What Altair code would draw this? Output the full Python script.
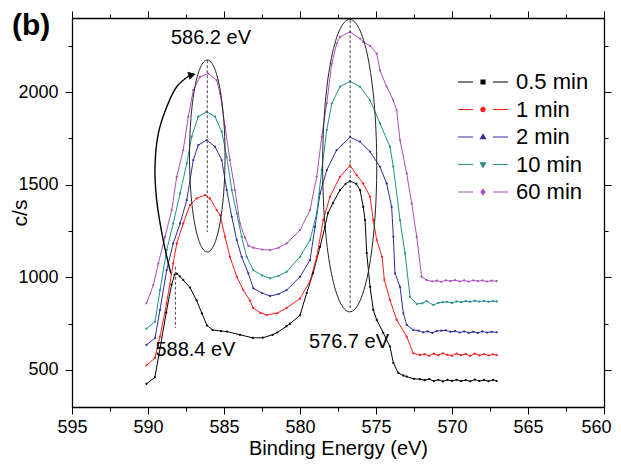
import altair as alt
import pandas as pd

SERIES = ["0.5 min", "1 min", "2 min", "10 min", "60 min"]
COLORS = ["#000000", "#ff1a1a", "#2e2e9e", "#22918a", "#a94fbb"]

# (binding energy eV, counts/s)
S_05 = [(590.1, 425), (589.55, 460), (589.2, 620), (588.8, 810), (588.45, 960), (588.25, 1015),
        (588.1, 1020), (587.9, 1005), (587.68, 985), (587.24, 945), (586.8, 875), (586.45, 805),
        (586.12, 740), (585.75, 716), (585.2, 710), (584.8, 707), (583.95, 690), (583.1, 673),
        (582.45, 674), (581.8, 690), (581.5, 702), (580.9, 735), (580.65, 750), (580.0, 795),
        (579.56, 915), (579.14, 1023), (578.68, 1165), (578.36, 1273), (578.16, 1347), (577.83, 1401),
        (577.37, 1471), (577.0, 1505), (576.71, 1520), (576.3, 1505), (576.05, 1471), (575.84, 1381),
        (575.72, 1309), (575.61, 1131), (575.39, 949), (575.18, 824), (574.95, 770), (574.52, 700),
        (574.08, 626), (573.86, 538), (573.53, 484), (573.2, 470), (572.98, 464), (572.5, 452),
        (572.11, 450), (571.8, 445), (571.5, 450), (571.2, 440), (570.9, 447), (570.6, 438),
        (570.3, 446), (570.0, 441), (569.7, 447), (569.4, 440), (569.1, 445), (568.8, 439),
        (568.5, 448), (568.2, 440), (567.9, 446), (567.6, 439), (567.3, 447), (567.06, 440)]
S_1 = [(590.1, 525), (589.54, 565), (589.21, 680), (588.77, 861), (588.34, 1075), (588.11, 1183),
       (587.68, 1291), (587.24, 1390), (586.8, 1426), (586.25, 1444), (585.92, 1426), (585.48, 1363),
       (585.26, 1336), (584.93, 1219), (584.61, 1111), (584.16, 1003), (583.73, 931), (583.29, 875),
       (583.09, 835), (582.6, 808), (582.19, 797), (581.51, 806), (580.88, 835), (580.0, 885),
       (579.34, 980), (578.9, 1110), (578.47, 1309), (578.03, 1435), (577.37, 1543), (576.71, 1604),
       (576.27, 1552), (575.84, 1507), (575.39, 1435), (575.18, 1309), (574.95, 1201), (574.6, 1111),
       (574.45, 985), (574.08, 878), (573.64, 770), (572.98, 680), (572.55, 590), (572.11, 581),
       (571.8, 585), (571.5, 576), (571.2, 588), (570.9, 579), (570.6, 590), (570.3, 582),
       (570.0, 577), (569.7, 588), (569.4, 580), (569.1, 586), (568.8, 576), (568.5, 588),
       (568.2, 579), (567.9, 585), (567.6, 578), (567.3, 584), (567.06, 580)]
S_2 = [(590.1, 635), (589.54, 672), (589.21, 824), (588.77, 1039), (588.34, 1183), (587.89, 1291),
       (587.45, 1417), (587.02, 1633), (586.69, 1714), (586.14, 1741), (585.59, 1705), (585.15, 1633),
       (584.82, 1471), (584.49, 1327), (584.16, 1201), (583.84, 1111), (583.4, 1022), (583.07, 941),
       (582.5, 915), (581.97, 899), (581.4, 910), (580.88, 931), (580.0, 1003), (579.34, 1093),
       (579.01, 1273), (578.68, 1453), (578.24, 1579), (577.59, 1687), (576.71, 1757), (576.05, 1732),
       (575.39, 1678), (574.74, 1597), (574.3, 1507), (573.97, 1381), (573.86, 1219), (573.75, 1022),
       (573.42, 949), (573.2, 806), (572.98, 743), (572.55, 716), (572.2, 712), (571.9, 703),
       (571.6, 708), (571.3, 700), (571.0, 710), (570.7, 712), (570.4, 714), (570.1, 706),
       (569.8, 710), (569.5, 702), (569.2, 708), (568.9, 700), (568.6, 706), (568.3, 700),
       (568.0, 708), (567.7, 702), (567.4, 706), (567.06, 703)]
S_10 = [(590.1, 723), (589.54, 760), (589.21, 931), (588.77, 1147), (588.34, 1291), (587.89, 1453),
        (587.45, 1615), (587.13, 1759), (586.69, 1867), (586.14, 1894), (585.59, 1867), (585.15, 1786),
        (584.82, 1651), (584.49, 1471), (584.16, 1345), (583.84, 1219), (583.51, 1111), (583.07, 1039),
        (582.5, 1010), (581.97, 995), (581.4, 1008), (580.88, 1030), (580.0, 1111), (579.34, 1201),
        (578.9, 1345), (578.57, 1579), (578.24, 1795), (577.91, 1938), (577.37, 2029), (576.71, 2058),
        (576.05, 2029), (575.39, 1956), (574.74, 1831), (574.08, 1705), (573.86, 1597), (573.42, 1309),
        (573.09, 1129), (572.76, 895), (572.32, 856), (571.95, 860), (571.67, 872), (571.23, 850),
        (570.9, 862), (570.6, 866), (570.35, 868), (570.0, 862), (569.7, 870), (569.4, 866),
        (569.1, 872), (568.8, 868), (568.5, 874), (568.2, 869), (567.9, 873), (567.6, 868),
        (567.3, 872), (567.06, 870)]
S_60 = [(590.1, 860), (589.65, 958), (589.32, 1075), (588.88, 1219), (588.44, 1363), (588.11, 1543),
        (587.68, 1687), (587.35, 1867), (587.02, 2010), (586.58, 2082), (586.03, 2100), (585.48, 2064),
        (585.26, 1993), (584.93, 1813), (584.61, 1633), (584.28, 1471), (583.95, 1290), (583.62, 1215),
        (583.4, 1170), (583.07, 1160), (582.5, 1150), (581.97, 1147), (581.4, 1160), (580.88, 1183),
        (580.0, 1255), (579.34, 1363), (578.9, 1543), (578.57, 1759), (578.24, 1939), (577.91, 2154),
        (577.59, 2262), (577.37, 2298), (576.71, 2325), (576.05, 2289), (575.84, 2271), (575.39, 2250),
        (574.95, 2208), (574.74, 2118), (574.3, 2029), (573.86, 1956), (573.64, 1902), (573.42, 1740),
        (572.98, 1561), (572.65, 1399), (572.32, 1219), (572.0, 1003), (571.67, 985), (571.3, 978),
        (571.0, 982), (570.7, 976), (570.4, 984), (570.1, 979), (569.8, 985), (569.5, 978),
        (569.2, 983), (568.9, 977), (568.6, 984), (568.3, 979), (568.0, 983), (567.7, 977),
        (567.4, 982), (567.06, 979)]

X_TICKS = [595, 592.5, 590, 587.5, 585, 582.5, 580, 577.5, 575, 572.5, 570, 567.5, 565, 562.5, 560]
Y_TICKS = [500, 750, 1000, 1250, 1500, 1750, 2000, 2250]

# annotations
NOTE_TEXT = ["586.2 eV", "588.4 eV", "576.7 eV"]
NOTE_X = [585.86, 586.88, 576.78]
NOTE_Y = [2262, 575, 617]
DASH_X = [586.1, 588.2, 576.7]
DASH_Y1 = [2172, 1057, 2388]
DASH_Y2 = [1244, 727, 834]
ELL1 = (586.1, 1655)
ELL2 = (576.73, 1603)
ARC_X = [588.5, 589.0, 589.43, 589.54, 589.32, 588.77, 588.11, 587.3]
ARC_Y = [1020, 1201, 1417, 1597, 1777, 1920, 2029, 2088]
HEAD = (587.1, 2093)

FONT = "Liberation Sans"

rows = []
for name, pts in zip(SERIES, [S_05, S_1, S_2, S_10, S_60]):
    for i, (be, c) in enumerate(pts):
        rows.append({"be": be, "cps": c, "series": name, "idx": i})
df = pd.DataFrame(rows)

xs = alt.Scale(domain=[560, 595], reverse=True, nice=False, zero=False)
ys = alt.Scale(domain=[300, 2400], nice=False, zero=False)
cs = alt.Scale(domain=SERIES, range=COLORS)

L = "M-1.923,0H-0.769M0.769,0H1.923"
SHAPES = [
    L + "M-0.15,-0.15H0.15V0.15H-0.15Z",
    L + "M-0.16,0A0.16,0.16 0 1,0 0.16,0A0.16,0.16 0 1,0 -0.16,0Z",
    L + "M0,-0.2L0.19,0.13H-0.19Z",
    L + "M0,0.2L0.19,-0.13H-0.19Z",
    L + "M0,-0.21L0.15,0L0,0.21L-0.15,0Z",
]
ss = alt.Scale(domain=SERIES, range=SHAPES)

xtick = {"condition": {"test": "datum.value % 5 === 0", "value": 7}, "value": 4}
ytick = {"condition": {"test": "datum.value % 500 === 0", "value": 7}, "value": 4}
common = dict(domainColor="black", domainWidth=1.3, tickColor="black", tickWidth=1,
              grid=False, labelFont=FONT, labelFontSize=18, labelColor="black",
              titleFont=FONT, titleColor="black", titleFontWeight="normal")

ax_bottom = alt.Axis(orient="bottom", values=X_TICKS, tickSize=xtick, labelFlush=False,
                     labelOverlap=False, labelPadding=4,
                     labelAlign={"condition": {"test": "datum.value === 560", "value": "right"},
                                 "value": "center"},
                     labelOffset={"condition": {"test": "datum.value === 560", "value": 7},
                                  "value": 0},
                     labelExpr="datum.value % 5 === 0 ? datum.label : ''",
                     title="Binding Energy (eV)", titleFontSize=20, titleY=47.5,
                     titleBaseline="alphabetic", **common)
ax_left = alt.Axis(orient="left", values=Y_TICKS, tickSize=ytick, labelOverlap=False,
                   labelPadding=7, format="d",
                   labelExpr="datum.value % 500 === 0 ? datum.label : ''",
                   title="c/s", titleFontSize=21, titleX=-46, titleBaseline="alphabetic", **common)
ax_top = alt.Axis(orient="top", values=X_TICKS, tickSize=xtick, labels=False, title=None, **common)
ax_right = alt.Axis(orient="right", values=Y_TICKS, tickSize=ytick, labels=False, title=None, **common)

base = alt.Chart(df)

leg = dict(title=None, orient="none", legendX=397, legendY=50, symbolSize=676,
           symbolStrokeWidth=1.2, labelFont=FONT, labelFontSize=22, labelColor="black",
           labelOffset=19, rowPadding=2.5, padding=0, symbolOffset=0)
# legend + mirrored top/right axes; its own points sit outside the clipped plot
legend_layer = base.transform_calculate(off="1000").mark_point(
    filled=False, strokeWidth=1.2, opacity=1, clip=True
).encode(
    x=alt.X("off:Q", scale=xs, axis=ax_top),
    y=alt.Y("cps:Q", scale=ys, axis=ax_right),
    color=alt.Color("series:N", scale=cs, legend=alt.Legend(**leg)),
    shape=alt.Shape("series:N", scale=ss, legend=alt.Legend(**leg)),
)

lines = base.mark_line(strokeWidth=1).encode(
    x=alt.X("be:Q", scale=xs, axis=ax_bottom),
    y=alt.Y("cps:Q", scale=ys, axis=ax_left),
    color=alt.Color("series:N", scale=cs, legend=None),
    order="idx:Q",
)
dots = base.mark_circle(size=5, opacity=1).encode(
    x=alt.X("be:Q", scale=xs, axis=None),
    y=alt.Y("cps:Q", scale=ys, axis=None),
    color=alt.Color("series:N", scale=cs, legend=None),
)

dash_df = pd.DataFrame({"x": DASH_X, "y1": DASH_Y1, "y2": DASH_Y2})
dashes = alt.Chart(dash_df).mark_rule(color="#444444", strokeDash=[3, 2], strokeWidth=1).encode(
    x=alt.X("x:Q", scale=xs, axis=None),
    y=alt.Y("y1:Q", scale=ys, axis=None),
    y2="y2:Q",
)

ELL_PATH = "M0,-1A0.185,1 0 1,1 0,1A0.185,1 0 1,1 0,-1Z"
ell1 = alt.Chart(pd.DataFrame({"x": [ELL1[0]], "y": [ELL1[1]]})).mark_point(
    shape=ELL_PATH, size=36864, filled=False, color="#222222", strokeWidth=1, opacity=1
).encode(x=alt.X("x:Q", scale=xs, axis=None), y=alt.Y("y:Q", scale=ys, axis=None))
ell2 = alt.Chart(pd.DataFrame({"x": [ELL2[0]], "y": [ELL2[1]]})).mark_point(
    shape=ELL_PATH, size=85500, filled=False, color="#222222", strokeWidth=1, opacity=1
).encode(x=alt.X("x:Q", scale=xs, axis=None), y=alt.Y("y:Q", scale=ys, axis=None))

arc_df = pd.DataFrame({"x": ARC_X, "y": ARC_Y, "i": list(range(len(ARC_X)))})
arc = alt.Chart(arc_df).mark_line(color="black", strokeWidth=1.4, interpolate="catmull-rom").encode(
    x=alt.X("x:Q", scale=xs, axis=None),
    y=alt.Y("y:Q", scale=ys, axis=None),
    order="i:Q",
)
head = alt.Chart(pd.DataFrame({"x": [HEAD[0]], "y": [HEAD[1]]})).mark_point(
    shape="triangle-right", filled=True, size=70, angle=345, color="black", opacity=1
).encode(x=alt.X("x:Q", scale=xs, axis=None), y=alt.Y("y:Q", scale=ys, axis=None))

notes = alt.Chart(pd.DataFrame({"x": NOTE_X, "y": NOTE_Y, "t": NOTE_TEXT})).mark_text(
    font=FONT, fontSize=20, color="black", align="center", baseline="alphabetic"
).encode(x=alt.X("x:Q", scale=xs, axis=None), y=alt.Y("y:Q", scale=ys, axis=None), text="t:N")

chart = alt.layer(
    legend_layer, lines, dots, dashes, ell1, ell2, arc, head, notes
).resolve_axis(x="independent", y="independent").properties(
    width=532, height=389,
    autosize=alt.AutoSizeParams(type="none"),
    padding={"left": 64, "top": 10, "right": 8, "bottom": 52},
    title=alt.TitleParams("(b)", anchor="start", frame="group", orient="top", dx=-60, dy=54,
                          offset=0, font=FONT, fontSize=30, fontWeight="bold", color="black",
                          baseline="alphabetic"),
).configure_view(stroke=None)

chart.save("out.html", embed_options={"renderer": "svg", "actions": False})
